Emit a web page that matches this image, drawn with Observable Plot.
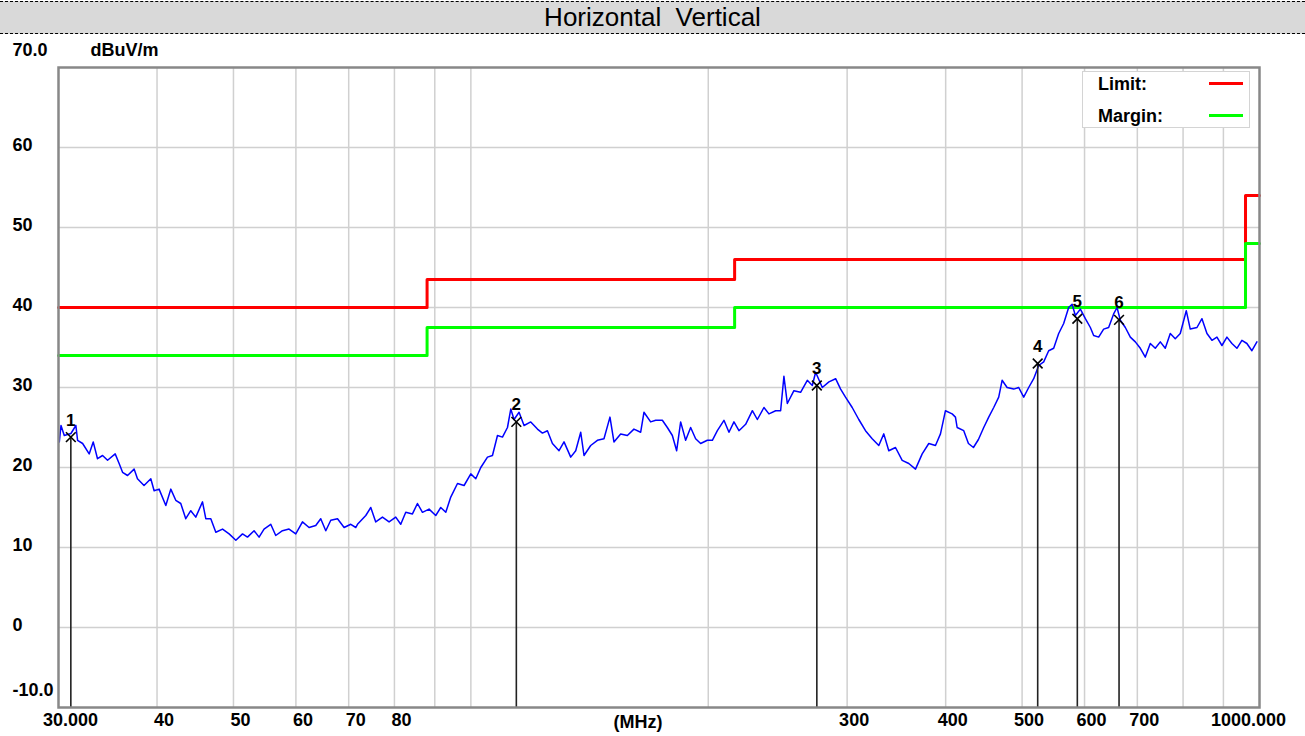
<!DOCTYPE html>
<html><head><meta charset="utf-8">
<script src="https://cdn.jsdelivr.net/npm/d3@7"></script>
<script src="https://cdn.jsdelivr.net/npm/@observablehq/plot@0.6"></script>
<style>
html,body{margin:0;padding:0;background:#fff;}
#wrap{position:relative;width:1305px;height:736px;overflow:hidden;font-family:"Liberation Sans",Arial,sans-serif;}
#title{margin-top:1px;height:31px;border-top:1px dashed #000;border-bottom:1px dashed #000;background:#d9d9d9;text-align:center;font-size:26px;line-height:31px;color:#000;margin-bottom:1px;white-space:pre;}
#legend{position:absolute;left:1082px;top:71px;width:166px;height:55px;border:1.5px solid #d4d4d4;background:#fff;}
#legend .lab{position:absolute;left:15px;font-weight:bold;font-size:18px;line-height:20px;color:#000;}
#legend .sw{position:absolute;left:126px;width:34px;height:3px;}
svg{display:block;}
</style></head>
<body><div id="wrap">
<div id="title">Horizontal  Vertical</div>
<div id="chart"></div>
<div id="legend">
  <div class="lab" style="top:2px">Limit:</div><div class="sw" style="top:10px;background:#ff0000"></div>
  <div class="lab" style="top:34px">Margin:</div><div class="sw" style="top:42px;background:#00ff00"></div>
</div>
</div>
<script>
// ---- data ----
const xTicks = [30, 40, 50, 60, 70, 80, 300, 400, 500, 600, 700, 1000];
const xTickLabels = ["30.000", "40", "50", "60", "70", "80", "300", "400", "500", "600", "700", "1000.000"];
const xGrid = [40, 50, 60, 70, 80, 90, 100, 200, 300, 400, 500, 600, 700, 800, 900];
const yTicks = [70, 60, 50, 40, 30, 20, 10, 0, -10];
const yTickLabels = ["70.0", "60", "50", "40", "30", "20", "10", "0", "-10.0"];
const yGrid = [0, 10, 20, 30, 40, 50, 60];

const limitFreq = [30, 88, 216, 960, 1000];
const limitLevel = [40, 43.5, 46, 54, 54];
const marginFreq = [30, 88, 216, 960, 1000];
const marginLevel = [34, 37.5, 40, 48, 48];

const markerFreq = [31.1, 114.2, 274.6, 523.3, 587.5, 663.6];
const markerLevel = [23.8, 25.7, 30.25, 33.0, 38.6, 38.45];
const markerLabel = ["1", "2", "3", "4", "5", "6"];

const traceFreq = [30.07,30.22,30.51,31.11,31.56,31.72,32.19,32.81,33.2,33.62,34.12,34.62,35.4,35.81,36.17,36.7,37.41,37.78,38.51,39.28,39.66,40.24,41.04,41.64,42.25,42.87,43.5,44.14,44.79,45.68,46.12,46.8,47.49,48.43,49.37,50.35,51.34,52.09,53.1,53.88,54.67,55.75,56.57,57.69,58.81,59.98,61.16,62.35,63.58,64.51,65.47,66.43,67.75,69.07,70.43,71.47,71.82,73.58,74.66,75.75,77.25,78.76,80.31,81.49,82.69,84.32,85.56,86.82,88.51,90.26,91.58,92.94,94.3,96.17,98.04,99.98,101.45,102.94,104.97,106.51,108.08,109.67,111.28,112.36,113.44,115.11,116.8,119.11,121.46,123.24,125.05,126.89,129.36,131.26,133.85,135.82,137.82,139.15,141.89,144.69,147.5,150.1,151.86,154.86,157.92,160.99,164.17,165.76,169.04,171.53,174.91,177.48,180.09,182.37,184.51,187.22,189.97,192.76,195.6,199.46,202.4,205.38,209.38,212.46,215.58,218.75,223.07,227.48,230.82,235.3,238.76,243.47,247.05,249.44,251.93,256.82,261.89,267.06,271,273.63,279.03,284.46,290.08,294.35,298.58,304.47,310.39,316.52,322.77,329.05,333.89,338.79,345.49,352.31,359.17,366.27,373.5,380.76,388.28,393.97,399.76,407.65,411.59,413.64,421.68,427.5,433.78,440.15,447.01,453.58,460.24,467.01,471.67,478.6,487.91,495.08,502.36,509.74,517.23,524.83,532.54,540.37,548.3,556.36,564.54,572.83,578.55,584.15,592.73,601.44,610.28,616.18,625.24,634.43,643.75,653.2,659.72,666.1,675.89,685.81,695.89,706.12,716.47,727,737.67,748.5,759.5,770.65,781.97,793.44,807.5,816.98,833.1,845.34,857.77,870.35,883.15,896.12,909.28,922.64,936.18,949.93,963.9,978.06,992.43];
const traceLevel = [23.2,25.25,24.0,24.25,25.25,23.4,23.0,21.7,23.2,21.1,21.5,20.9,21.7,20.5,19.4,19.0,19.8,18.6,17.75,18.6,17.1,17.3,15.25,17.3,15.9,15.5,13.6,14.6,13.8,15.7,13.6,13.6,11.9,12.3,11.7,10.9,11.7,11.3,12.1,11.3,12.3,12.9,11.5,12.1,12.3,11.7,13.2,12.5,12.75,13.6,12.1,13.4,13.6,12.5,12.9,12.5,12.9,14.0,15.0,13.2,13.8,13.2,13.8,12.9,14.4,14.2,15.5,14.4,14.8,14.0,15.0,14.4,16.3,18.0,17.75,19.2,18.6,20.0,21.3,21.5,24.0,23.8,25.0,27.3,26.0,26.9,25.25,25.7,24.8,24.3,24.6,23.0,22.1,23.2,21.3,22.1,24.4,21.5,22.75,23.4,23.6,26.3,23.2,24.2,24.0,24.8,24.4,26.9,25.7,25.9,25.9,25.0,24.0,22.1,25.7,23.4,25.0,23.6,23.0,23.4,23.4,24.6,25.9,24.4,25.7,24.6,25.4,27.1,26.0,27.5,26.7,27.1,27.1,31.4,28.0,29.6,29.4,30.9,30.25,31.9,30.0,30.7,31.1,29.8,28.8,27.5,26.0,24.6,23.6,22.75,24.2,22.1,22.5,20.9,20.5,19.8,21.7,23.0,22.75,24.2,27.1,26.7,26.3,25.0,24.6,23.0,22.5,23.5,25.0,26.3,27.5,28.8,30.9,30.0,29.8,30.0,28.8,30.0,31.1,32.75,33.2,34.6,34.9,36.75,38.0,40.0,40.4,39.0,39.8,38.6,37.5,36.5,36.3,37.3,37.5,39.2,40.0,38.4,37.5,36.3,35.7,34.9,33.8,35.5,34.9,35.7,34.9,36.75,36.1,36.75,39.6,37.3,37.5,38.6,36.75,35.9,36.3,35.25,36.3,35.5,34.9,35.9,35.5,34.6,35.7];

// ---- tables ----
const trace = traceFreq.map((f, i) => ({f, v: traceLevel[i]}));
const limit = limitFreq.map((f, i) => ({f, v: limitLevel[i]}));
const margin = marginFreq.map((f, i) => ({f, v: marginLevel[i]}));
const markers = markerFreq.map((f, i) => ({f, v: markerLevel[i], label: markerLabel[i]}));
const xLab = new Map(xTicks.map((t, i) => [t, xTickLabels[i]]));
const yLab = new Map(yTicks.map((t, i) => [t, yTickLabels[i]]));

const font = "Liberation Sans, Arial, sans-serif";
const axisText = {fontSize: 18, fontWeight: "bold", fill: "#000", label: null};

const chart = Plot.plot({
  width: 1305, height: 701,
  marginLeft: 58, marginRight: 46, marginTop: 32, marginBottom: 29,
  x: {type: "log", domain: [30, 1000], label: null},
  y: {domain: [-10, 70], label: null},
  style: {fontFamily: font, fontSize: "18px", fontWeight: "bold", color: "#000", background: "#fff", overflow: "visible"},
  marks: [
    Plot.gridX(xGrid, {stroke: "#d0d0d0", strokeOpacity: 1, strokeWidth: 1.5}),
    Plot.gridY(yGrid, {stroke: "#d0d0d0", strokeOpacity: 1, strokeWidth: 1.5}),
    Plot.line(limit, {x: "f", y: "v", curve: "step-after", stroke: "#ff0000", strokeWidth: 3}),
    Plot.line(margin, {x: "f", y: "v", curve: "step-after", stroke: "#00ff00", strokeWidth: 3}),
    Plot.line(trace, {x: "f", y: "v", stroke: "#0000ff", strokeWidth: 1.5}),
    Plot.ruleX(markers, {x: "f", y1: -10, y2: "v", stroke: "#222", strokeWidth: 1.6}),
    Plot.dot(markers, {x: "f", y: "v", symbol: "times", r: 4.5, stroke: "#000", strokeWidth: 1.6}),
    Plot.text(markers, {x: "f", y: "v", text: "label", dy: -17, fontSize: 17, fontWeight: "bold", fill: "#000"}),
    Plot.frame({stroke: "#888", strokeWidth: 2.5}),
    Plot.axisX([xTicks[0]], {tickFormat: t => xLab.get(t), tickSize: 0, tickPadding: 6, dx: 12, ...axisText}),
    Plot.axisX(xTicks.slice(1, -1), {tickFormat: t => xLab.get(t), tickSize: 0, tickPadding: 6, dx: 7, ...axisText}),
    Plot.axisX([xTicks[xTicks.length - 1]], {tickFormat: t => xLab.get(t), tickSize: 0, tickPadding: 6, dx: -11, ...axisText}),
    Plot.text(["(MHz)"], {frameAnchor: "bottom", dx: -21, dy: 15, lineAnchor: "middle", fontSize: 18, fontWeight: "bold", fill: "#000"}),
    Plot.axisY([yTicks[0], yTicks[yTicks.length - 1]], {tickFormat: t => yLab.get(t), tickSize: 0, tickPadding: 0, textAnchor: "start", dx: -46, dy: -17, ...axisText}),
    Plot.axisY(yTicks.slice(1, -1), {tickFormat: t => yLab.get(t), tickSize: 0, tickPadding: 0, textAnchor: "start", dx: -46, dy: -2, ...axisText}),
    Plot.text(["dBuV/m"], {frameAnchor: "top-left", dx: 32, dy: -17, textAnchor: "start", lineAnchor: "middle", fontSize: 18, fontWeight: "bold", fill: "#000"})
  ]
});
document.getElementById("chart").appendChild(chart);
</script>
</body></html>
